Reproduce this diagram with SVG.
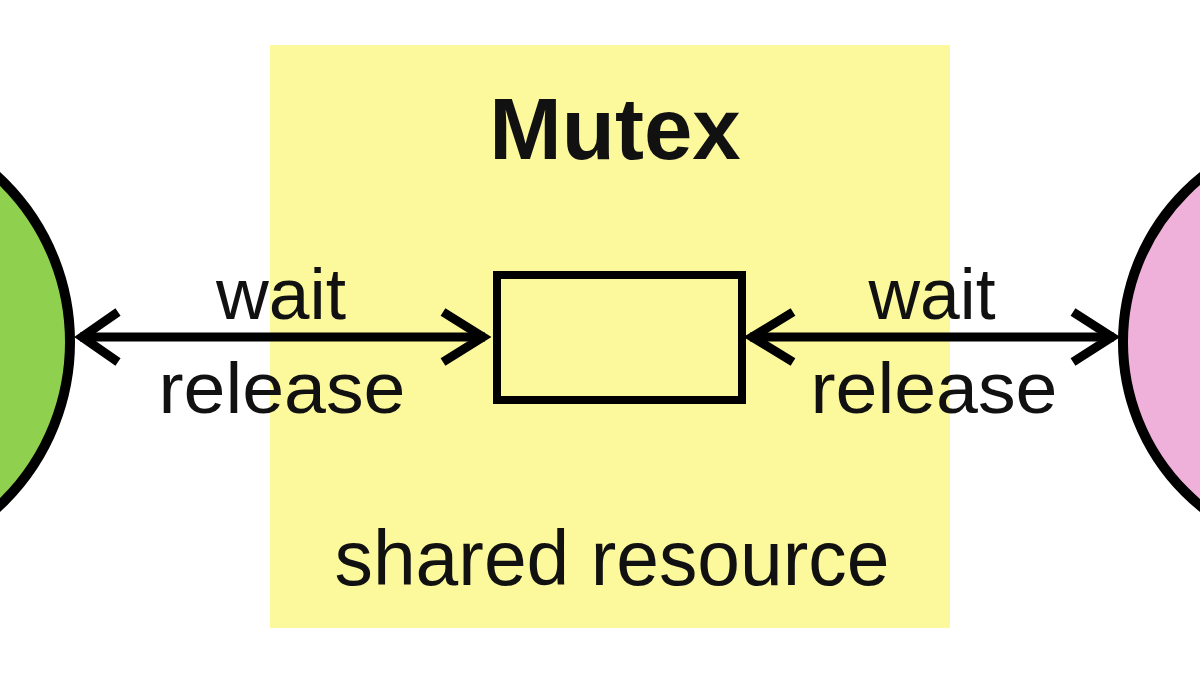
<svg xmlns="http://www.w3.org/2000/svg" width="1200" height="674" viewBox="0 0 1200 674">
<style>
.lbl{font-family:"Liberation Sans",Arial,sans-serif;fill:#111;}
.ln{stroke:#000;stroke-width:9;fill:none;stroke-linecap:butt;}
.hd{stroke:#000;stroke-width:9;fill:none;stroke-linejoin:miter;}
</style>
<rect width="1200" height="674" fill="#ffffff"/>
<g id="shared-resource">
<rect x="270" y="45" width="680" height="583" fill="#fcf89c"/>
<text class="lbl" x="615" y="159" font-size="87" font-weight="bold" text-anchor="middle">Mutex</text>
<text class="lbl" x="612" y="585" font-size="77" text-anchor="middle" textLength="555" lengthAdjust="spacingAndGlyphs">shared resource</text>
</g>
<g id="mutex">
<rect x="497" y="275" width="245" height="125" fill="#fcf89c" stroke="#000" stroke-width="8"/>
</g>
<g id="thread-left">
<circle cx="-155" cy="342" r="225" fill="#8fd14f" stroke="#000" stroke-width="10"/>
</g>
<g id="thread-right">
<circle cx="1335" cy="342" r="212" fill="#efb1da" stroke="#000" stroke-width="10"/>
</g>
<g id="connectors">
<line class="ln" x1="80" y1="337" x2="485" y2="337"/>
<polyline class="hd" points="118,312 82,337 118,362"/>
<polyline class="hd" points="443,312 483,337 443,362"/>
<line class="ln" x1="750" y1="337" x2="1114" y2="337"/>
<polyline class="hd" points="793,312 752,337 793,362"/>
<polyline class="hd" points="1073,312 1112,337 1073,362"/>
</g>
<g id="labels">
<text class="lbl" x="281" y="319" font-size="72" text-anchor="middle" textLength="130" lengthAdjust="spacingAndGlyphs">wait</text>
<text class="lbl" x="282" y="413" font-size="72" text-anchor="middle" textLength="247" lengthAdjust="spacingAndGlyphs">release</text>
<text class="lbl" x="932" y="319" font-size="72" text-anchor="middle" textLength="127" lengthAdjust="spacingAndGlyphs">wait</text>
<text class="lbl" x="934" y="413" font-size="72" text-anchor="middle" textLength="247" lengthAdjust="spacingAndGlyphs">release</text>
</g>
</svg>
